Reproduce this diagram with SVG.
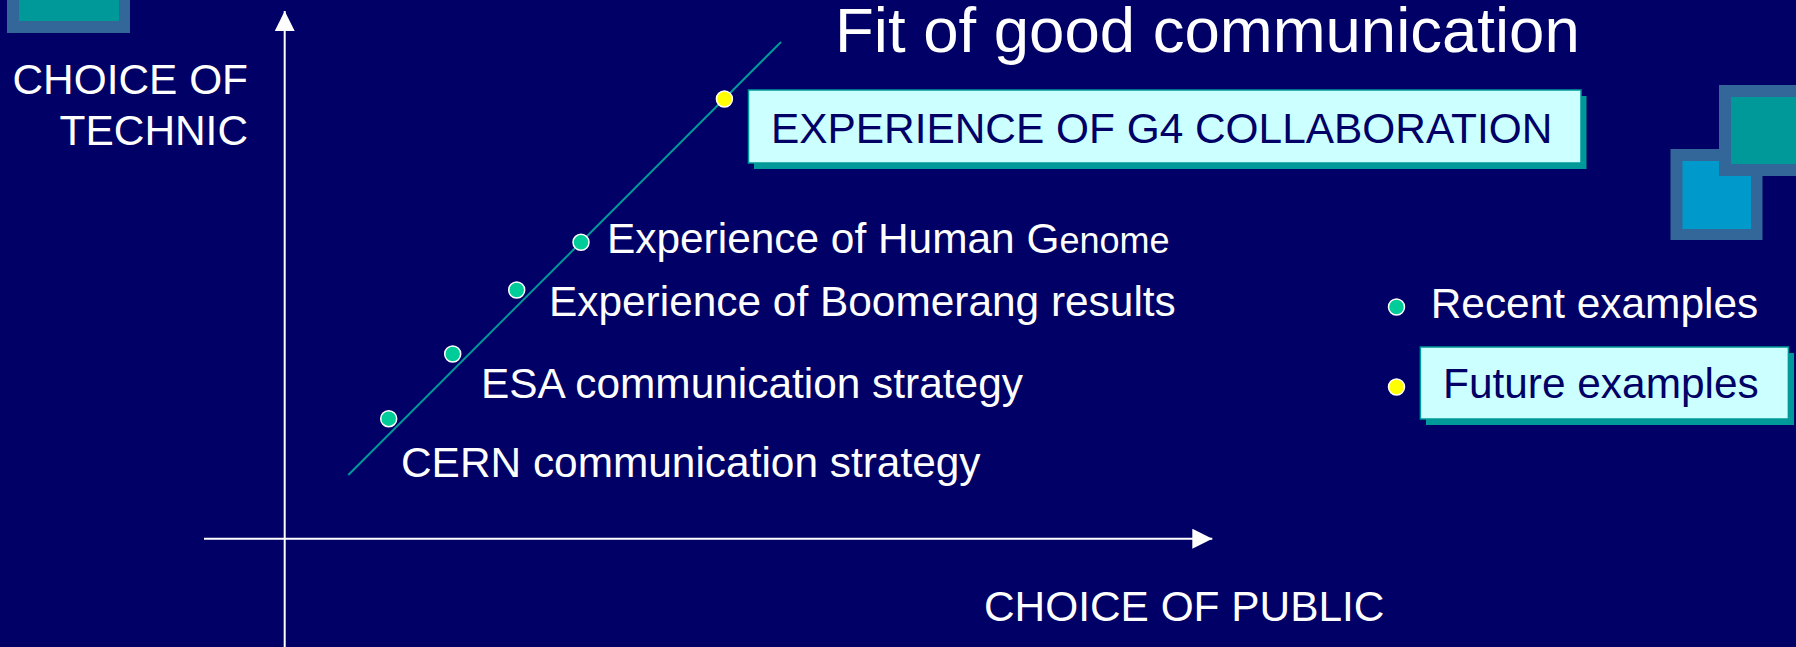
<svg xmlns="http://www.w3.org/2000/svg" width="1796" height="647" viewBox="0 0 1796 647">
<defs>
<style>
.t{font-family:"Liberation Sans",Arial,sans-serif;font-size:42.4px;fill:#ffffff}
.tb{font-family:"Liberation Sans",Arial,sans-serif;font-size:42.4px;fill:#000066}
.box{fill:#ccffff;stroke:#009999;stroke-width:1.5}
.sh{fill:#009999}
.dot{fill:#00cc99;stroke:#ffffff;stroke-width:1.5}
.fut{fill:#ffff00;stroke:#ffffff;stroke-width:1.5}
.axis{stroke:#ffffff;stroke-width:2;fill:none}
.sqo{fill:#336699}
</style>
<marker id="ah" markerUnits="userSpaceOnUse" markerWidth="21" markerHeight="21" refX="20" refY="10" orient="auto" viewBox="0 0 21 21">
<path d="M0,0 L20,10 L0,20 z" fill="#ffffff"/>
</marker>
</defs>
<rect x="0" y="0" width="1796" height="647" fill="#000066"/>

<g id="deco">
<rect class="sqo" x="7" y="-60" width="123" height="93"/>
<rect x="19" y="-60" width="100" height="81" fill="#009999"/>
<rect class="sqo" x="1670.5" y="149" width="92" height="91"/>
<rect x="1682.5" y="161" width="68.5" height="68" fill="#0099cc"/>
<rect class="sqo" x="1719" y="85" width="100" height="91"/>
<rect x="1731" y="97" width="80" height="67" fill="#009999"/>
</g>

<g id="connectors">
<line class="axis" x1="284.7" y1="647" x2="284.7" y2="11" marker-end="url(#ah)"/>
<line class="axis" x1="204" y1="538.7" x2="1212.3" y2="538.7" marker-end="url(#ah)"/>
<line x1="348.3" y1="475" x2="781" y2="42" stroke="#009999" stroke-width="2"/>
</g>

<g id="title">
<text x="835" y="51.5" font-family="Liberation Sans, Arial, sans-serif" font-size="63.5" fill="#ffffff">Fit of good communication</text>
</g>

<g id="axis-y-label">
<text class="t" x="248" y="94" text-anchor="end">CHOICE OF</text>
<text class="t" x="248" y="145" text-anchor="end">TECHNIC</text>
</g>

<g id="axis-x-label">
<text class="t" x="984" y="620.7">CHOICE OF PUBLIC</text>
</g>

<g id="g4">
<rect class="sh" x="754" y="96" width="832.5" height="73"/>
<rect class="box" x="748.5" y="90" width="832.5" height="73"/>
<circle class="fut" cx="724.4" cy="99" r="8"/>
<text class="tb" x="771" y="143">EXPERIENCE OF G4 COLLABORATION</text>
</g>

<g id="human-genome">
<circle class="dot" cx="581" cy="242.3" r="8"/>
<text class="t" x="607" y="252.7">Experience of Human G<tspan font-size="36">enome</tspan></text>
</g>

<g id="boomerang">
<circle class="dot" cx="516.7" cy="290" r="8"/>
<text class="t" x="549" y="315.5">Experience of Boomerang results</text>
</g>

<g id="esa">
<circle class="dot" cx="452.7" cy="354" r="8"/>
<text class="t" x="481" y="397.7">ESA communication strategy</text>
</g>

<g id="cern">
<circle class="dot" cx="388.7" cy="418.7" r="8"/>
<text class="t" x="401" y="476.7">CERN communication strategy</text>
</g>

<g id="legend-recent">
<circle class="dot" cx="1396.5" cy="307" r="8"/>
<text class="t" x="1430.7" y="318">Recent examples</text>
</g>

<g id="legend-future">
<rect class="sh" x="1426" y="353" width="368" height="72"/>
<rect class="box" x="1420.4" y="347" width="368" height="72"/>
<circle class="fut" cx="1396.5" cy="387" r="8"/>
<text class="tb" x="1443" y="398">Future examples</text>
</g>
</svg>
